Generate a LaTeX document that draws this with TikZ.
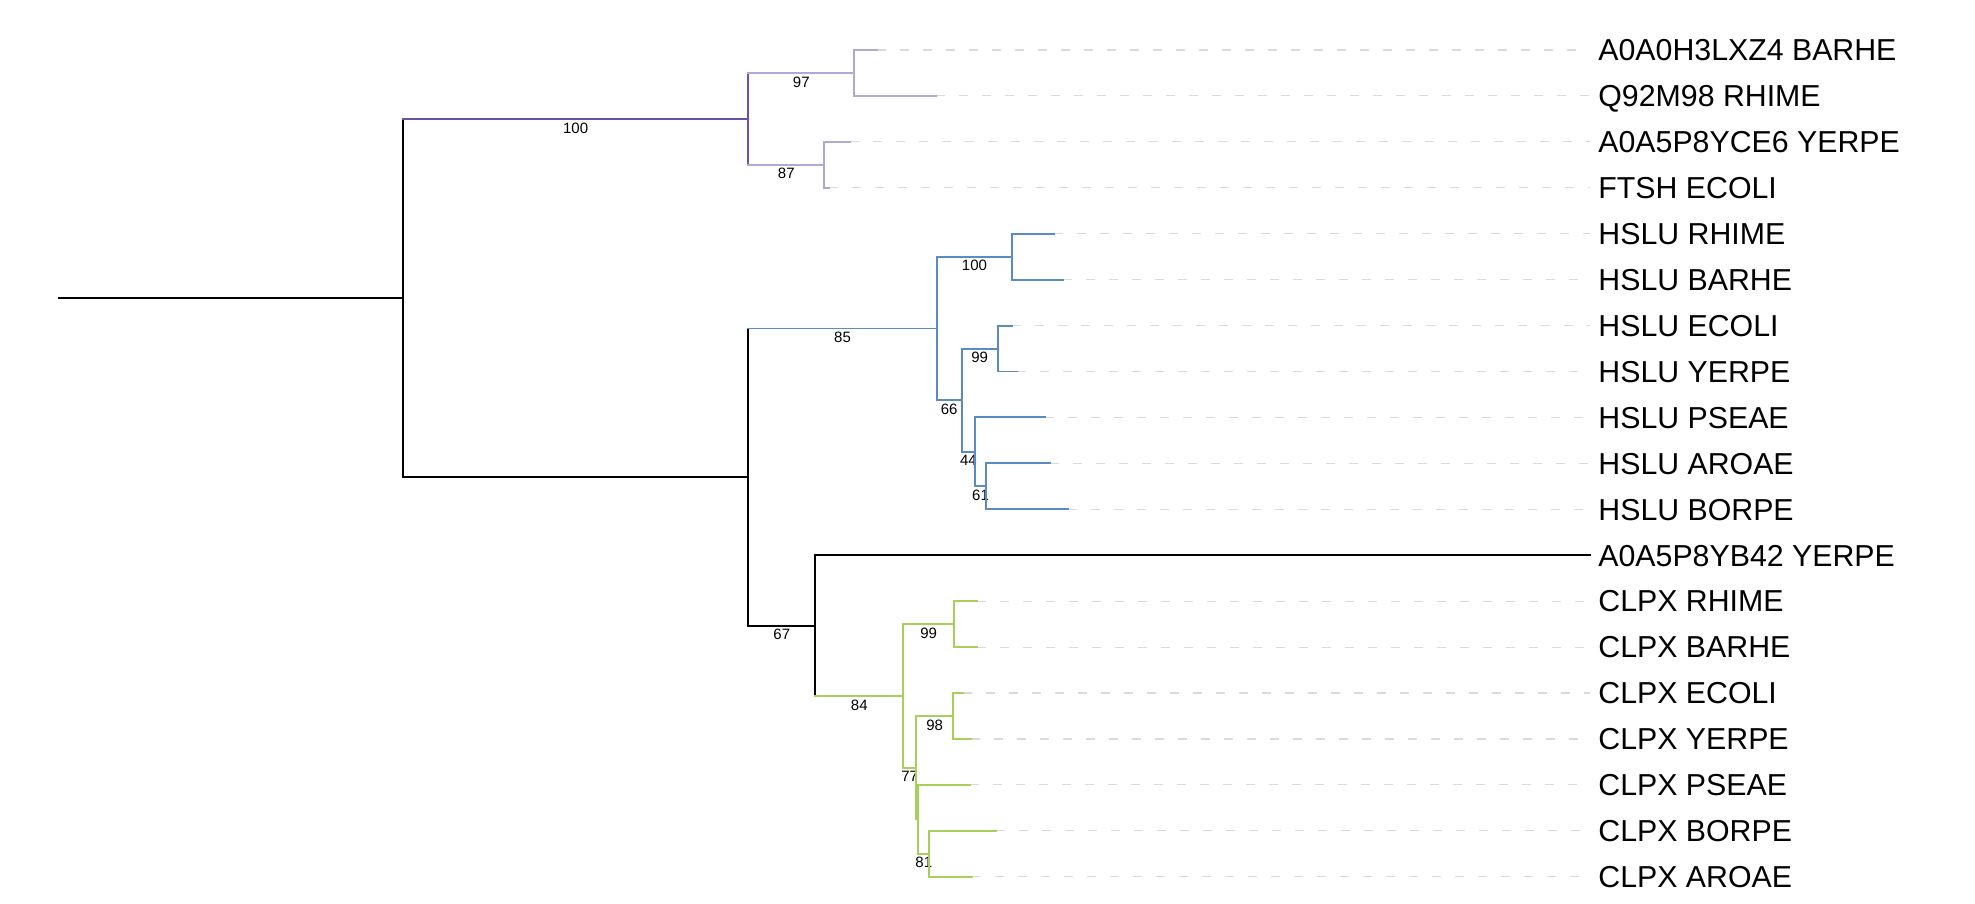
\documentclass[tikz,border=0pt]{standalone}
\usepackage{fontspec}
\setmainfont{Liberation Sans}
\definecolor{cpurple}{RGB}{112,78,168}
\definecolor{clav}{RGB}{178,168,214}
\definecolor{cblue}{RGB}{91,138,197}
\definecolor{cgreen}{RGB}{167,208,91}
\definecolor{cdash}{RGB}{218,218,218}
\begin{document}
\begin{tikzpicture}[x=0.5pt,y=-0.5pt,
  br/.style={line width=0.95pt,line cap=rect},
  ext/.style={draw=cdash,line width=0.55pt,dash pattern=on 4.5pt off 7pt},
  leaf/.style={anchor=base west,inner xsep=4pt,inner ysep=0pt,font=\fontsize{15.15}{18}\selectfont},
  bs/.style={anchor=north,inner sep=0pt,yshift=-1.35pt,text=black,font=\fontsize{7.5}{9}\selectfont}]
\useasboundingbox (0,0) rectangle (1975,904);

% internal nodes
\coordinate (R0) at (59,297.95);
\coordinate (R) at (403,297.95);
\coordinate (A) at (748.3,118.9);
\coordinate (A1) at (854.3,72.97);
\coordinate (A2) at (824.3,164.83);
\coordinate (B) at (748.3,477);
\coordinate (C) at (936.7,328.45);
\coordinate (C1) at (1012.3,256.69);
\coordinate (C2) at (961.7,400.22);
\coordinate (C21) at (997.7,348.55);
\coordinate (C22) at (975,451.89);
\coordinate (C221) at (986,486.34);
\coordinate (D) at (815.3,625.56);
\coordinate (E) at (903.3,695.9);
\coordinate (E1) at (954,624.13);
\coordinate (E2) at (916,767.66);
\coordinate (E21) at (953.3,715.99);
\coordinate (E22) at (918.3,819.33);
\coordinate (E221) at (929.3,853.78);

% leaf ends
\coordinate (L0) at (877.3,50);
\coordinate (L1) at (936,95.93);
\coordinate (L2) at (850,141.86);
\coordinate (L3) at (829,187.79);
\coordinate (L4) at (1054,233.72);
\coordinate (L5) at (1063.3,279.65);
\coordinate (L6) at (1012.3,325.58);
\coordinate (L7) at (1016.7,371.51);
\coordinate (L8) at (1045,417.44);
\coordinate (L9) at (1050,463.37);
\coordinate (L10) at (1067.7,509.3);
\coordinate (L11) at (1590,555.23);
\coordinate (L12) at (977.3,601.16);
\coordinate (L13) at (976.7,647.09);
\coordinate (L14) at (962.7,693.02);
\coordinate (L15) at (970.7,738.95);
\coordinate (L16) at (970,784.88);
\coordinate (L17) at (996,830.81);
\coordinate (L18) at (971.7,876.74);

% leaf labels
\node[leaf] (t0) at (1590,60.8) {A0A0H3LXZ4 BARHE};
\node[leaf] (t1) at (1590,106.73) {Q92M98 RHIME};
\node[leaf] (t2) at (1590,152.66) {A0A5P8YCE6 YERPE};
\node[leaf] (t3) at (1590,198.59) {FTSH ECOLI};
\node[leaf] (t4) at (1590,244.52) {HSLU RHIME};
\node[leaf] (t5) at (1590,290.45) {HSLU BARHE};
\node[leaf] (t6) at (1590,336.38) {HSLU ECOLI};
\node[leaf] (t7) at (1590,382.31) {HSLU YERPE};
\node[leaf] (t8) at (1590,428.24) {HSLU PSEAE};
\node[leaf] (t9) at (1590,474.17) {HSLU AROAE};
\node[leaf] (t10) at (1590,520.1) {HSLU BORPE};
\node[leaf] (t11) at (1590,566.03) {A0A5P8YB42 YERPE};
\node[leaf] (t12) at (1590,611.96) {CLPX RHIME};
\node[leaf] (t13) at (1590,657.89) {CLPX BARHE};
\node[leaf] (t14) at (1590,703.82) {CLPX ECOLI};
\node[leaf] (t15) at (1590,749.75) {CLPX YERPE};
\node[leaf] (t16) at (1590,795.68) {CLPX PSEAE};
\node[leaf] (t17) at (1590,841.61) {CLPX BORPE};
\node[leaf] (t18) at (1590,887.54) {CLPX AROAE};

% dashed extensions
\foreach \i in {0,1,2,3,4,5,6,7,8,9,10,12,13,14,15,16,17,18}
  \draw[ext] (L\i) -- (L\i -| t\i.west);

% root
\draw[br] (R0) -- (R);
\draw[br] (R |- A) -- (R |- B);
\draw[br,cpurple] (R |- A) -- (A) node[bs,midway] {100};
\draw[br] (R |- B) -- (B);

% purple / lavender clade
\draw[br,cpurple] (A |- A1) -- (A |- A2);
\draw[br,clav] (A |- A1) -- (A1) node[bs,midway] {97};
\draw[br,clav] (A |- A2) -- (A2) node[bs,midway] {87};
\draw[br,clav] (A1 |- L0) -- (A1 |- L1);
\draw[br,clav] (A1 |- L0) -- (L0);
\draw[br,clav] (A1 |- L1) -- (L1);
\draw[br,clav] (A2 |- L2) -- (A2 |- L3);
\draw[br,clav] (A2 |- L2) -- (L2);
\draw[br,clav] (A2 |- L3) -- (L3);

% black node B
\draw[br] (B |- C) -- (B |- D);

% blue clade
\draw[br,cblue] (B |- C) -- (C) node[bs,midway] {85};
\draw[br,cblue] (C |- C1) -- (C |- C2);
\draw[br,cblue] (C |- C1) -- (C1) node[bs,midway] {100};
\draw[br,cblue] (C1 |- L4) -- (C1 |- L5);
\draw[br,cblue] (C1 |- L4) -- (L4);
\draw[br,cblue] (C1 |- L5) -- (L5);
\draw[br,cblue] (C |- C2) -- (C2) node[bs,midway] {66};
\draw[br,cblue] (C2 |- C21) -- (C2 |- C22);
\draw[br,cblue] (C2 |- C21) -- (C21) node[bs,midway] {99};
\draw[br,cblue] (C21 |- L6) -- (C21 |- L7);
\draw[br,cblue] (C21 |- L6) -- (L6);
\draw[br,cblue] (C21 |- L7) -- (L7);
\draw[br,cblue] (C2 |- C22) -- (C22) node[bs,midway] {44};
\draw[br,cblue] (C22 |- L8) -- (C22 |- C221);
\draw[br,cblue] (C22 |- L8) -- (L8);
\draw[br,cblue] (C22 |- C221) -- (C221) node[bs,midway] {61};
\draw[br,cblue] (C221 |- L9) -- (C221 |- L10);
\draw[br,cblue] (C221 |- L9) -- (L9);
\draw[br,cblue] (C221 |- L10) -- (L10);

% black node D
\draw[br] (B |- D) -- (D) node[bs,midway] {67};
\draw[br] (D |- L11) -- (D |- E);
\draw[br] (D |- L11) -- (t11.west |- L11);

% green clade
\draw[br,cgreen] (D |- E) -- (E) node[bs,midway] {84};
\draw[br,cgreen] (E |- E1) -- (E |- E2);
\draw[br,cgreen] (E |- E1) -- (E1) node[bs,midway] {99};
\draw[br,cgreen] (E1 |- L12) -- (E1 |- L13);
\draw[br,cgreen] (E1 |- L12) -- (L12);
\draw[br,cgreen] (E1 |- L13) -- (L13);
\draw[br,cgreen] (E |- E2) -- (E2) node[bs,midway] {77};
\draw[br,cgreen] (E2 |- E21) -- (E2 |- E22);
\draw[br,cgreen] (E2 |- E21) -- (E21) node[bs,midway] {98};
\draw[br,cgreen] (E21 |- L14) -- (E21 |- L15);
\draw[br,cgreen] (E21 |- L14) -- (L14);
\draw[br,cgreen] (E21 |- L15) -- (L15);
\draw[br,cgreen] (E2 |- E22) -- (E22);
\draw[br,cgreen] (E22 |- L16) -- (E22 |- E221);
\draw[br,cgreen] (E22 |- L16) -- (L16);
\draw[br,cgreen] (E22 |- E221) -- (E221) node[bs,midway] {81};
\draw[br,cgreen] (E221 |- L17) -- (E221 |- L18);
\draw[br,cgreen] (E221 |- L17) -- (L17);
\draw[br,cgreen] (E221 |- L18) -- (L18);
\end{tikzpicture}
\end{document}
